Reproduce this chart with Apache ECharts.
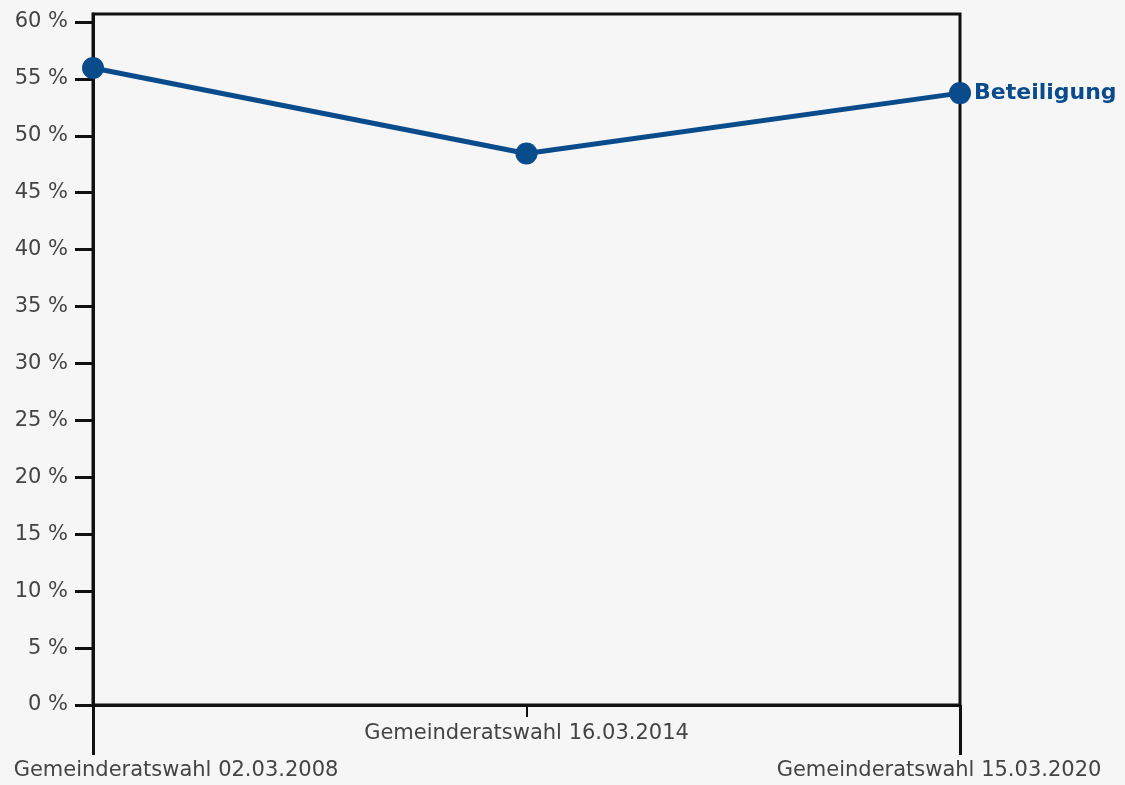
<!DOCTYPE html>
<html>
<head>
<meta charset="utf-8">
<script src="https://cdn.jsdelivr.net/npm/echarts@6/dist/echarts.min.js"></script>
<style>
html,body{margin:0;padding:0;background:#f6f6f6;}
#c{width:1125px;height:785px;}
</style>
</head>
<body>
<div id="c"></div>
<script>
const categories = ['Gemeinderatswahl 02.03.2008', 'Gemeinderatswahl 16.03.2014', 'Gemeinderatswahl 15.03.2020'];
const seriesName = 'Beteiligung';
const turnout = [55.95, 48.45, 53.75];
const yTicks = [0, 5, 10, 15, 20, 25, 30, 35, 40, 45, 50, 55, 60];

const FONT = 'DejaVu Sans';
const BLUE = '#0a4b8c';
const FS = 21;
const chart = echarts.init(document.getElementById('c'), null, {renderer: 'canvas'});
const option = {
  backgroundColor: '#f6f6f6',
  animation: false,
  grid: {left: 93, right: 165, top: 14, bottom: 80, show: true, borderColor: '#111', borderWidth: 3, backgroundColor: 'transparent'},
  xAxis: [
    {
      type: 'category', data: categories, boundaryGap: false, position: 'bottom',
      axisLine: {show: true, lineStyle: {color: '#111', width: 3}},
      axisTick: {show: true, length: 50, lineStyle: {color: '#111', width: 3}, interval: (i) => i !== 1},
      axisLabel: {
        show: true, margin: 55, fontFamily: FONT, fontSize: FS, color: '#444',
        interval: (i) => i !== 1,
        formatter: (v, i) => i === 0 ? '{l|' + v + '}' : '{r|' + v + '}',
        rich: {
          l: {fontFamily: FONT, fontSize: FS, color: '#444', padding: [0, 0, 0, 166]},
          r: {fontFamily: FONT, fontSize: FS, color: '#444', padding: [0, 42, 0, 0]}
        }
      },
      splitLine: {show: false}
    },
    {
      type: 'category', data: categories, boundaryGap: false, position: 'bottom',
      axisLine: {show: false},
      axisTick: {show: true, length: 12, lineStyle: {color: '#111', width: 2}, interval: (i) => i === 1},
      axisLabel: {show: true, margin: 18, fontFamily: FONT, fontSize: FS, color: '#444', interval: (i) => i === 1},
      splitLine: {show: false}
    }
  ],
  yAxis: {
    type: 'value', min: 0, max: 60.7, interval: 5,
    axisLine: {show: true, lineStyle: {color: '#111', width: 3}},
    axisTick: {show: true, length: 18, lineStyle: {color: '#111', width: 3}, customValues: yTicks},
    axisLabel: {fontFamily: FONT, fontSize: FS, color: '#444', margin: 25, formatter: '{value} %', customValues: yTicks},
    splitLine: {show: false}
  },
  series: [{
    name: seriesName, type: 'line', data: turnout, xAxisIndex: 0,
    symbol: 'circle', symbolSize: 22, clip: false,
    lineStyle: {color: BLUE, width: 5},
    itemStyle: {color: BLUE},
    endLabel: {show: true, formatter: '{a}', color: BLUE, fontFamily: FONT, fontWeight: 'bold', fontSize: 22, distance: 14}
  }]
};
chart.setOption(option);
</script>
</body>
</html>
